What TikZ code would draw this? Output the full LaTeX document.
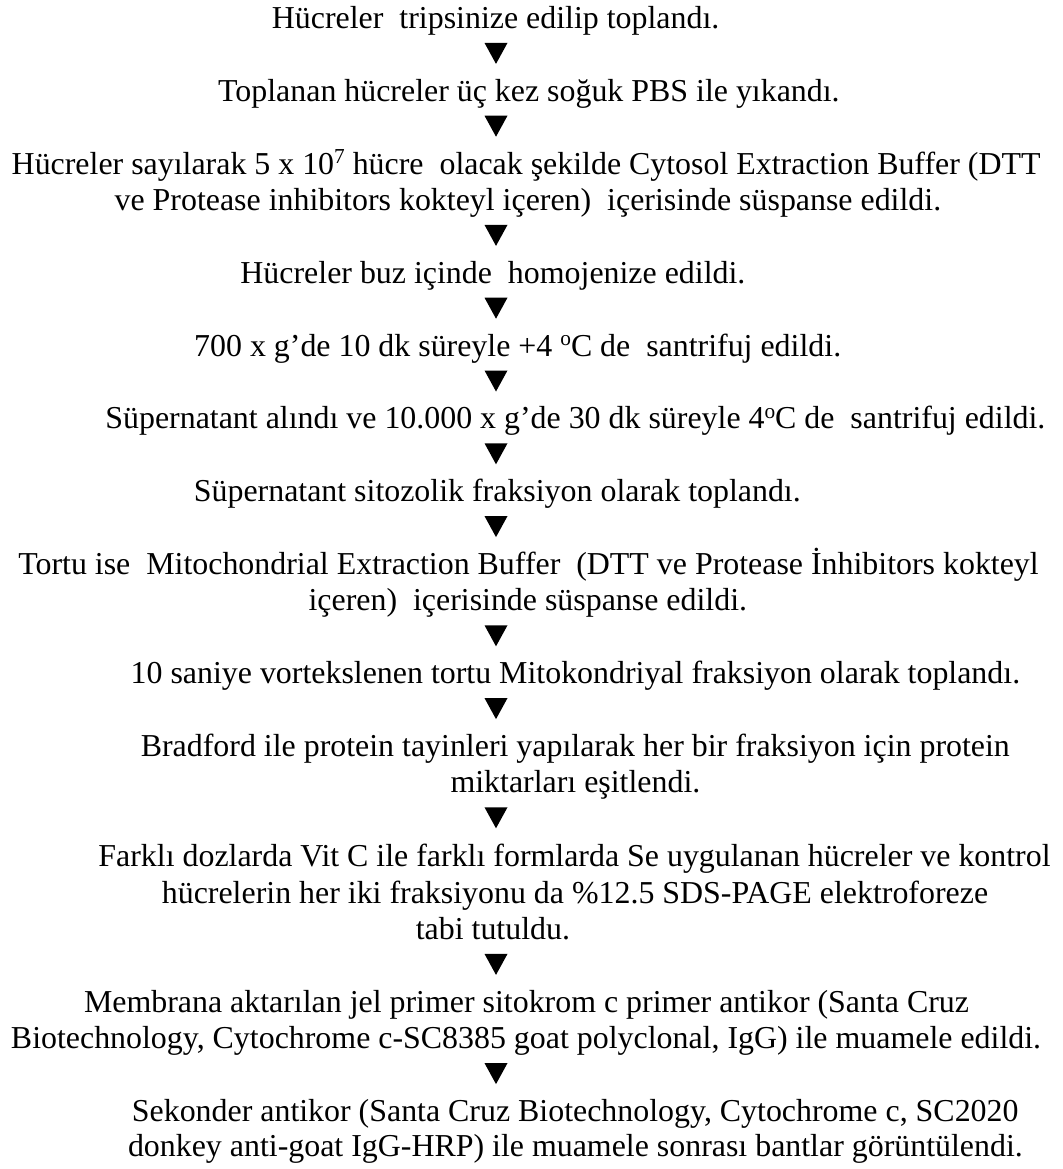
\documentclass[tikz,border=0pt]{standalone}
\usepackage{fontspec}
\setmainfont{Liberation Serif}[Ligatures={NoCommon}]
\newcommand{\supr}[1]{\raisebox{0.34em}{\fontsize{21.3}{21.3}\selectfont #1}}
\begin{document}
\begin{tikzpicture}[x=1pt,y=-1pt,
  ln/.style={anchor=base,inner sep=0pt,outer sep=0pt,font=\fontsize{31.9}{36}\selectfont},
  tri/.style={fill=black,draw=none}]
\useasboundingbox (0,0) rectangle (1062,1169);
% text lines
\node[ln] (l1)  at (495.6,28.5)  {Hücreler\ \ tripsinize edilip toplandı.};
\node[ln] (l2)  at (528.9,101.3) {Toplanan hücreler üç kez soğuk PBS ile yıkandı.};
\node[ln] (l3a) at (526.1,174.1) {Hücreler sayılarak 5 x 10\supr{7} hücre\ \ olacak şekilde Cytosol Extraction Buffer (DTT};
\node[ln] (l3b) at (527.9,210.5) {ve Protease inhibitors kokteyl içeren)\ \ içerisinde süspanse edildi.};
\node[ln] (l4)  at (492.9,283.3) {Hücreler buz içinde\ \ homojenize edildi.};
\node[ln] (l5)  at (517.7,356.1) {700 x g’de 10 dk süreyle +4 \supr{o}C de\ \ santrifuj edildi.};
\node[ln] (l6)  at (575.4,428.9) {Süpernatant alındı ve 10.000 x g’de 30 dk süreyle 4\supr{o}C de\ \ santrifuj edildi.};
\node[ln] (l7)  at (497.3,501.7) {Süpernatant sitozolik fraksiyon olarak toplandı.};
\node[ln] (l8a) at (528.5,574.5) {Tortu ise\ \ Mitochondrial Extraction Buffer\ \ (DTT ve Protease İnhibitors kokteyl};
\node[ln] (l8b) at (527.8,610.9) {içeren)\ \ içerisinde süspanse edildi.};
\node[ln] (l9)  at (575.4,683.7) {10 saniye vortekslenen tortu Mitokondriyal fraksiyon olarak toplandı.};
\node[ln] (l10a) at (575.3,756.5){Bradford ile protein tayinleri yapılarak her bir fraksiyon için protein};
\node[ln] (l10b) at (575.4,792.9){miktarları eşitlendi.};
\node[ln] (l11a) at (574.5,866.2){Farklı dozlarda Vit C ile farklı formlarda Se uygulanan hücreler ve kontrol};
\node[ln] (l11b) at (575,903.2)  {hücrelerin her iki fraksiyonu da \%12.5 SDS-PAGE elektroforeze};
\node[ln] (l11c) at (492.9,939.5){tabi tutuldu.};
\node[ln] (l12a) at (526.5,1012.3){Membrana aktarılan jel primer sitokrom c primer antikor (Santa Cruz};
\node[ln] (l12b) at (526,1048.7) {Biotechnology, Cytochrome c-SC8385 goat polyclonal, IgG) ile muamele edildi.};
\node[ln] (l13a) at (575.2,1121.3){Sekonder antikor (Santa Cruz Biotechnology, Cytochrome c, SC2020};
\node[ln] (l13b) at (575.4,1156.9){donkey anti-goat IgG-HRP) ile muamele sonrası bantlar görüntülendi.};
% triangle markers (apex points)
\coordinate (t1)  at (496,63.9);
\coordinate (t2)  at (496,136.7);
\coordinate (t3)  at (496,245.9);
\coordinate (t4)  at (496,318.7);
\coordinate (t5)  at (496,391.5);
\coordinate (t6)  at (496,464.3);
\coordinate (t7)  at (496,537.1);
\coordinate (t8)  at (496,646.3);
\coordinate (t9)  at (496,719.1);
\coordinate (t10) at (496,828.3);
\coordinate (t11) at (496,974.9);
\coordinate (t12) at (496,1084.1);
\foreach \t in {t1,t2,t3,t4,t5,t6,t7,t8,t9,t10,t11,t12}
  \fill[tri] (\t) -- ++(-11.5,-21) -- ++(23,0) -- cycle;
\end{tikzpicture}
\end{document}
